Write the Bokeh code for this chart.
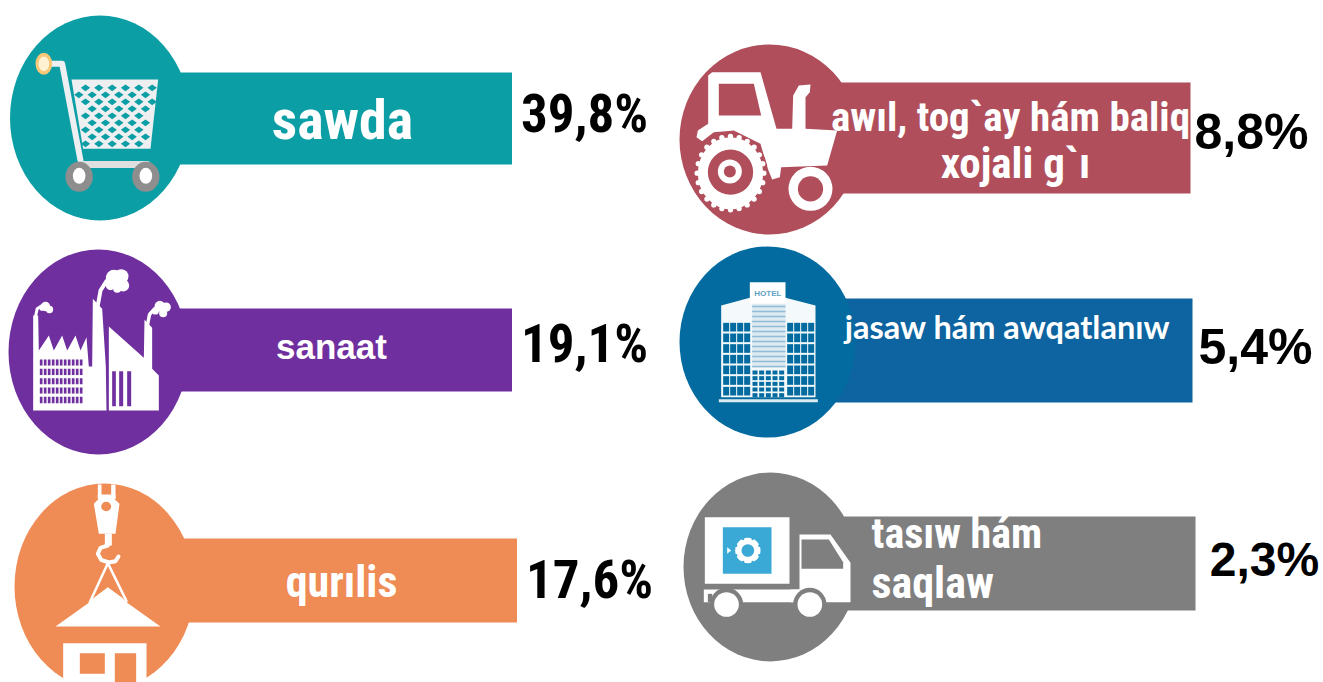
import math
from bokeh.plotting import figure
from bokeh.models import Range1d
from bokeh.core.properties import value
from bokeh.embed import file_html
from bokeh.resources import INLINE

# ---- data ----
categories = ["sawda", "sanaat", "qurılis", "awıl, tog`ay hám baliq xojali g`ı",
              "jasaw hám awqatlanıw", "tasıw hám saqlaw"]
shares = [39.8, 19.1, 17.6, 8.8, 5.4, 2.3]
share_labels = ["39,8%", "19,1%", "17,6%", "8,8%", "5,4%", "2,3%"]

# ---- layout: disc (cx, cy, rx, ry), band (left, right, top, bottom), colours ----
TEAL, PURPLE, ORANGE, RED, BLUE, BLUE2, GREY = ("#0C9EA5", "#6F2F9E", "#EF8B54", "#B04F5B",
                                                "#036B9F", "#0D64A0", "#7F7F7F")
discs = [(99.5, 117.5, 90, 102.5, TEAL), (98, 351.5, 90, 102.5, PURPLE), (104, 586, 90, 103, ORANGE),
         (769, 139, 90, 95, RED), (767, 341.5, 88, 95.5, BLUE), (770, 566.5, 87, 94.5, GREY)]
bands = [(150, 511.5, 72, 164, TEAL), (150, 511.5, 308, 391, PURPLE), (150, 516.5, 538, 622, ORANGE),
         (800, 1190, 82, 193, RED), (800, 1192, 298, 402, BLUE2), (800, 1195, 516, 610, GREY)]
value_pos = [(584, 113), (584, 343), (589, 579), (1251, 131), (1255, 346), (1264, 559)]
value_style = [("narrow", 53), ("narrow", 53), ("narrow", 53), ("wide", 50), ("wide", 50), ("wide", 48)]

W, H = 1323, 682
p = figure(width=W, height=H, x_range=Range1d(0, W), y_range=Range1d(H, 0),
           x_axis_location=None, y_axis_location=None, toolbar_location=None,
           output_backend="svg", min_border=0, outline_line_color=None,
           background_fill_color="white", border_fill_color="white")
p.grid.visible = False

for (l, r, t, b, c) in bands:
    p.quad(left=l, right=r, top=t, bottom=b, fill_color=c, line_color=None)
for (cx, cy, rx, ry, c) in discs:
    p.ellipse(x=cx, y=cy, width=2 * rx, height=2 * ry, fill_color=c, line_color=None)

# icon helpers: coordinates given at 3x of a local crop origin
def poly(ox, oy, pts, c):
    p.patch([ox + a / 3 for a, _ in pts], [oy + b / 3 for _, b in pts], fill_color=c, line_color=None)
def box(ox, oy, x0, y0, x1, y1, c):
    p.quad(left=ox + x0 / 3, right=ox + x1 / 3, top=oy + y0 / 3, bottom=oy + y1 / 3, fill_color=c, line_color=None)
def disc(ox, oy, x, y, rx, c, ry=None):
    ry = rx if ry is None else ry
    p.ellipse(x=ox + x / 3, y=oy + y / 3, width=2 * rx / 3, height=2 * ry / 3, fill_color=c, line_color=None)
def stroke(ox, oy, pts, c, w):
    p.line([ox + a / 3 for a, _ in pts], [oy + b / 3 for _, b in pts], line_color=c, line_width=w,
           line_join="round", line_cap="round")

WHITE = "#FFFFFF"

# --- cart ---
o = (0, 0)
SILVER = "#EDEFF1"
stroke(*o, [(140, 190), (185, 190), (240, 480)], SILVER, 6)
disc(*o, 130, 190, 25, "#F8C777", 33)
disc(*o, 130, 190, 16, "#FFF2D2", 22)
poly(*o, [(213, 237), (473, 237), (450, 445), (248, 445)], SILVER)
row = 0
for y in range(262, 440, 21):
    shift = 0 if row % 2 == 0 else 20
    for k in range(-1, 7):
        x = 215 + shift + k * 40
        t = (y - 237) / 208
        lo, hi = 213 + t * 35 + 5, 473 - t * 23 - 5
        if x - 4 > lo and x + 4 < hi:
            poly(*o, [(x - 14, y), (x, y - 10), (x + 14, y), (x, y + 10)], TEAL)
    row += 1
stroke(*o, [(240, 492), (440, 492)], "#DDDFE1", 7)
for cx in (236, 436):
    disc(*o, cx, 529, 41, "#8E8E8E", 45)
    disc(*o, cx, 526, 19, WHITE, 24)

# --- factory ---
o = (0, 240)
poly(*o, [(98, 510), (98, 225), (113, 225), (115, 330), (145, 285), (160, 330), (185, 285), (200, 330),
          (225, 285), (240, 330), (258, 290), (265, 378), (275, 378), (277, 175), (305, 205), (316, 378),
          (318, 510)], WHITE)
poly(*o, [(325, 510), (325, 258), (430, 352), (432, 238), (455, 262), (455, 385), (475, 405), (475, 510)], WHITE)
for r_ in range(5):
    for c_ in range(11):
        box(*o, 118 + c_ * 12, 357 + r_ * 28, 126 + c_ * 12, 376 + r_ * 28, PURPLE)
for r_ in range(1, 5):
    box(*o, 115, 353 + r_ * 28 - 5, 252, 353 + r_ * 28 - 1, WHITE)
for x0, x1 in ((335, 346), (356, 368), (380, 392)):
    box(*o, x0, 392, x1, 497, PURPLE)
stroke(*o, [(105, 228), (110, 205), (125, 195)], WHITE, 3)
for x, y, r_ in ((135, 198, 14), (147, 207, 11), (125, 203, 8)):
    disc(*o, x, y, r_, WHITE)
stroke(*o, [(292, 195), (300, 150), (318, 122)], WHITE, 4)
for x, y, r_ in ((340, 112, 24), (362, 108, 22), (368, 135, 18), (330, 135, 14), (350, 145, 12)):
    disc(*o, x, y, r_, WHITE)
stroke(*o, [(440, 258), (447, 222), (462, 205)], WHITE, 3.5)
for x, y, r_ in ((478, 197, 16), (497, 200, 14), (488, 218, 12), (465, 212, 10)):
    disc(*o, x, y, r_, WHITE)

# --- hook and house ---
o = (0, 470)
box(*o, 292, 42, 303, 85, WHITE)
box(*o, 332, 42, 345, 85, WHITE)
box(*o, 292, 72, 345, 85, WHITE)
poly(*o, [(280, 100), (298, 82), (338, 82), (357, 100), (345, 190), (295, 190)], WHITE)
disc(*o, 317, 108, 15, ORANGE, 14)
box(*o, 313, 190, 334, 225, WHITE)
stroke(*o, [(322, 225), (300, 232), (292, 250), (302, 268), (325, 276), (345, 272), (354, 258)], WHITE, 4)
stroke(*o, [(322, 278), (268, 395)], WHITE, 2.5)
stroke(*o, [(322, 278), (378, 392)], WHITE, 2.5)
poly(*o, [(165, 468), (265, 397), (280, 382), (322, 350), (365, 382), (380, 397), (480, 468)], WHITE)
box(*o, 188, 518, 438, 640, WHITE)
box(*o, 238, 548, 313, 610, ORANGE)
box(*o, 343, 548, 407, 640, ORANGE)

# --- tractor ---
o = (670, 30)
poly(*o, [(113, 135), (125, 125), (270, 125), (318, 295), (365, 295), (368, 195), (385, 165), (420, 162),
          (418, 185), (405, 200), (405, 295), (500, 300), (470, 405), (332, 410), (328, 440), (305, 447),
          (290, 410), (270, 340), (190, 300), (130, 305), (95, 332), (78, 320), (82, 300), (113, 280)], WHITE)
poly(*o, [(145, 160), (250, 160), (272, 255), (145, 255)], RED)
disc(*o, 180, 425, 112, RED)
disc(*o, 180, 428, 98, WHITE, 108)
for k in range(24):
    a = k * math.pi / 12
    disc(*o, 180 + 100 * math.cos(a), 428 + 110 * math.sin(a), 8, WHITE)
disc(*o, 180, 425, 68, RED)
disc(*o, 178, 423, 36, WHITE)
disc(*o, 178, 423, 18, RED)
disc(*o, 420, 475, 66, WHITE)
disc(*o, 420, 475, 38, RED)

# --- hotel ---
o = (670, 240)
poly(*o, [(152, 195), (238, 172), (345, 172), (435, 195), (435, 470), (152, 470)], "#F4F9FB")
box(*o, 238, 125, 345, 190, WHITE)
box(*o, 245, 190, 345, 382, "#DDEAF2")
for y in range(196, 380, 15):
    box(*o, 245, y, 345, y + 4, "#8FBBD3")
for x0 in (158, 350):
    for r_ in range(7):
        for c_ in range(4):
            box(*o, x0 + c_ * 21, 247 + r_ * 32, x0 + c_ * 21 + 18, 273 + r_ * 32, BLUE)
for r_ in range(5):
    for c_ in range(5):
        box(*o, 246 + c_ * 20, 390 + r_ * 17, 246 + c_ * 20 + 15, 390 + r_ * 17 + 12, BLUE)
box(*o, 145, 476, 442, 485, "#DCEAF2")
p.text(x=[670 + 292 / 3], y=[240 + 158 / 3], text=["HOTEL"], text_color="#5FA3C7", text_font_size="8px",
       text_font=value("Liberation Sans"), text_font_style="bold", text_align="center", text_baseline="middle")

# --- truck ---
o = (670, 465)
box(*o, 103, 155, 357, 355, WHITE)
box(*o, 157, 185, 303, 325, "#3AA9D5")
disc(*o, 232, 255, 38, WHITE)
disc(*o, 232, 255, 19, "#3AA9D5")
for k in range(8):
    a = k * math.pi / 4 + math.pi / 8
    disc(*o, 232 + 38 * math.cos(a), 255 + 38 * math.sin(a), 4, "#3AA9D5")
poly(*o, [(170, 245), (182, 255), (170, 265)], WHITE)
poly(*o, [(387, 207), (480, 207), (540, 292), (540, 410), (360, 410), (360, 372), (387, 372)], WHITE)
poly(*o, [(393, 222), (475, 222), (518, 290), (518, 310), (393, 310)], GREY)
box(*o, 100, 372, 390, 410, WHITE)
box(*o, 112, 385, 125, 410, GREY)
for cx in (168, 418):
    disc(*o, cx, 417, 50, GREY)
    disc(*o, cx, 417, 37, WHITE)

# --- texts ---
NARROW = "Roboto Condensed, Roboto, Liberation Sans"
WIDE = "Liberation Sans"
def label(x, y, s, size, font=NARROW, align="center", color=WHITE):
    p.text(x=[x], y=[y], text=[s], text_color=color, text_font_size=f"{size}px", text_font=value(font),
           text_font_style="bold", text_align=align, text_baseline="middle")

label(342, 119, "sawda", 56)
label(331, 346, "sanaat", 35, WIDE)
label(341, 581, "qurılis", 44)
label(1010, 116, "awıl, tog`ay hám baliq", 41)
label(1015, 162, "xojali g`ı", 43)
label(1007, 326, "jasaw hám awqatlanıw", 32.5, "Lato")
label(871, 533, "tasıw hám", 42, align="left")
label(871, 582, "saqlaw", 44, align="left")

for (x, y), s, (kind, size) in zip(value_pos, share_labels, value_style):
    label(x, y, s, size, NARROW if kind == "narrow" else WIDE, color="#000000")

open("out.html", "w").write(file_html(p, INLINE))
